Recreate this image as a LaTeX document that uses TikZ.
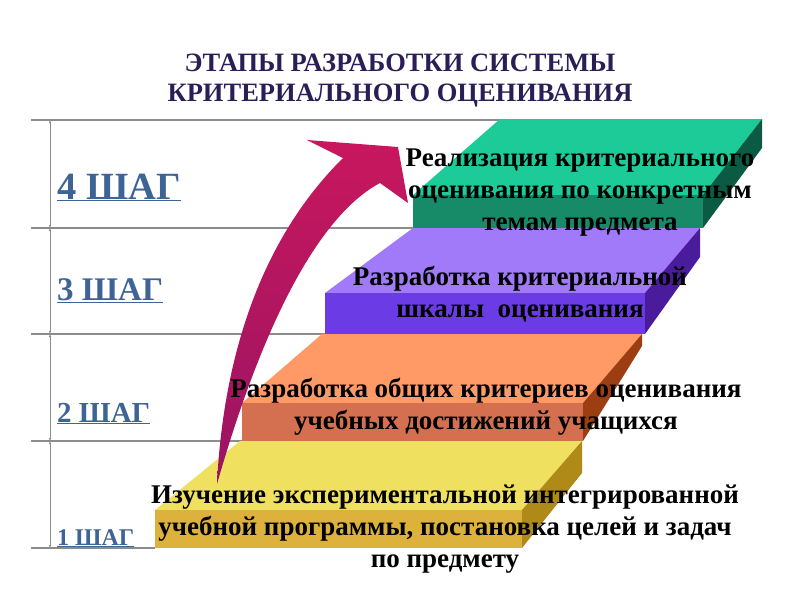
\documentclass[tikz,border=0pt]{standalone}
\usepackage{fontspec}
\setmainfont{Liberation Serif}
\usepackage{tikz}
\usetikzlibrary{arrows.meta, positioning, calc}
\definecolor{TitleNavy}{HTML}{2B1E55}
\definecolor{ShagBlue}{HTML}{3E6496}
\definecolor{LineGray}{HTML}{8C8C8C}
\definecolor{ArrowRed}{HTML}{C8175E}
\definecolor{ArrowDeep}{HTML}{9A1462}
\definecolor{GreenTop}{HTML}{1CCB98}
\definecolor{GreenFront}{HTML}{178A68}
\definecolor{GreenSide}{HTML}{0B5A44}
\definecolor{PurpleTop}{HTML}{A07AF8}
\definecolor{PurpleFront}{HTML}{6B3CE6}
\definecolor{PurpleSide}{HTML}{4A1C9C}
\definecolor{OrangeTop}{HTML}{FF9966}
\definecolor{OrangeFront}{HTML}{D4704F}
\definecolor{OrangeSide}{HTML}{9C3E12}
\definecolor{YellowTop}{HTML}{F0E060}
\definecolor{YellowFront}{HTML}{DDB23C}
\definecolor{YellowSide}{HTML}{B08A18}

\tikzset{
  steptext/.style={font=\bfseries\fontsize{27}{32}\selectfont, align=center,
                   text=black, inner sep=0pt},
  shaglabel/.style={text=ShagBlue, anchor=base west, inner sep=0pt},
  gridline/.style={draw=LineGray, line width=1.2pt},
}

\begin{document}
\begin{tikzpicture}[x=1pt, y=-1pt]
\useasboundingbox (0,0) rectangle (800,600);

\foreach \yy/\xx [count=\i] in {120/500, 228/413, 334/325, 441/242, 548/155} {
  \coordinate (d\i) at (50,\yy);
  \draw[gridline] (31,\yy) -- (\xx,\yy);
}
\foreach \i/\j in {1/2, 2/3, 3/4, 4/5}
  \draw[draw=LineGray, line width=0.6pt,
        {Latex[length=3pt,width=2.5pt]}-{Latex[length=3pt,width=2.5pt]}] (d\i) -- (d\j);

\fill[YellowTop] (240,441) -- (582,441) -- (522,510) -- (155,510) -- cycle;
\fill[YellowFront] (155,510) rectangle (522,548);
\fill[YellowSide] (522,510) -- (582,441) -- (582,473) -- (522,548) -- cycle;

\fill[OrangeTop] (322,334) -- (642,334) -- (583,403) -- (242,403) -- cycle;
\fill[OrangeFront] (242,403) rectangle (583,441);
\fill[OrangeSide] (583,403) -- (642,334) -- (642,346) -- (583,441) -- cycle;

\fill[PurpleTop] (413,228) -- (700,228) -- (645,293) -- (325,293) -- cycle;
\fill[PurpleFront] (325,293) rectangle (645,334);
\fill[PurpleSide] (645,293) -- (700,228) -- (700,257) -- (645,334) -- cycle;

\fill[GreenTop] (500,119) -- (762,119) -- (703,195) -- (413,195) -- cycle;
\fill[GreenFront] (413,195) rectangle (703,228);
\fill[GreenSide] (703,195) -- (762,119) -- (762,148) -- (703,228) -- cycle;

\shade[top color=ArrowRed, middle color=ArrowRed, bottom color=ArrowDeep]
  (217,484) .. controls (222,380) and (250,250) .. (343,158)
  -- (307,140) -- (398,147) -- (408,203) -- (380,183)
  .. controls (320,215) and (264,320) .. (217,484) -- cycle;

\node[font=\bfseries\fontsize{26.5}{30}\selectfont, text=TitleNavy, align=center]
  (title) at (400,81) {ЭТАПЫ РАЗРАБОТКИ СИСТЕМЫ\\КРИТЕРИАЛЬНОГО ОЦЕНИВАНИЯ};

\node[shaglabel, font=\bfseries\fontsize{38.5}{38}\selectfont] (shag4) at (57,199) {\underline{4 ШАГ}};
\node[shaglabel, font=\bfseries\fontsize{33}{33}\selectfont] (shag3) at (57,300) {\underline{3 ШАГ}};
\node[shaglabel, font=\bfseries\fontsize{29}{29}\selectfont] (shag2) at (57,422) {\underline{2 ШАГ}};
\node[shaglabel, font=\bfseries\fontsize{24}{24}\selectfont] (shag1) at (57,545) {\underline{1 ШАГ}};

\node[steptext] (txt4) at (580,193) {Реализация критериального\\оценивания по конкретным\\темам предмета};
\node[steptext] (txt3) at (520,294) {Разработка критериальной\\шкалы\ \ оценивания};
\node[steptext] (txt2) at (486,407) {Разработка общих критериев оценивания\\учебных достижений учащихся};
\node[steptext] (txt1) at (445,529) {Изучение экспериментальной интегрированной\\учебной программы, постановка целей и задач\\по предмету};
\end{tikzpicture}
\end{document}
